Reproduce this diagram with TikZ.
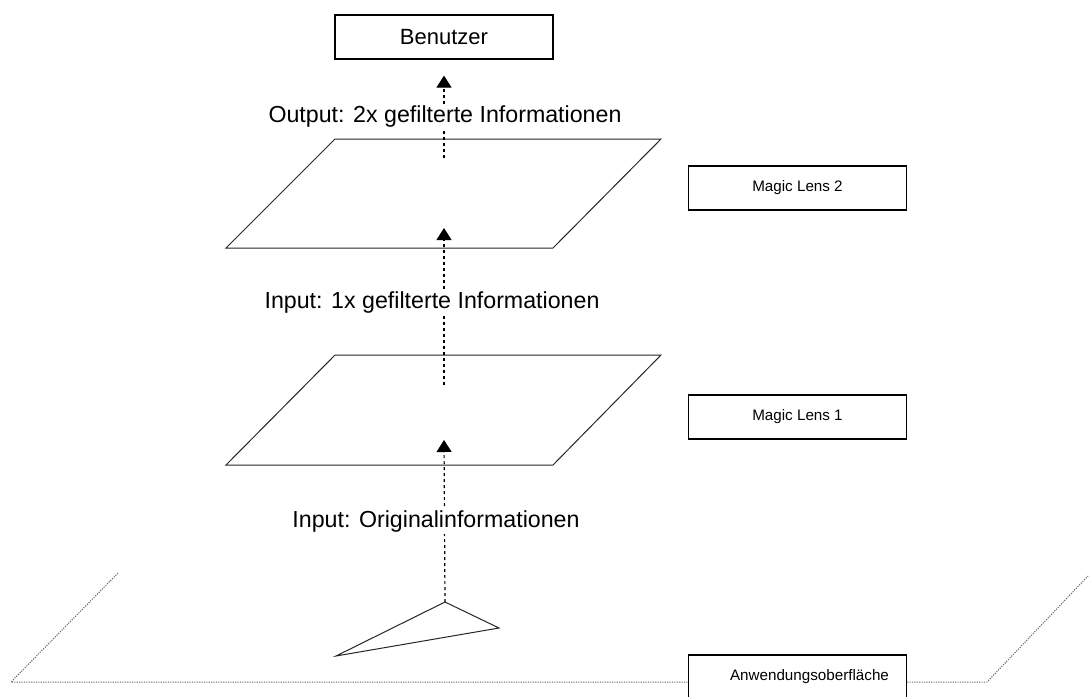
\documentclass[tikz,border=0pt]{standalone}
\usepackage{fontspec}
\setmainfont{Liberation Sans}
\usetikzlibrary{arrows.meta, positioning, calc}

\begin{document}
\begin{tikzpicture}[
  x=0.5pt, y=-0.5pt,
  box/.style={
    rectangle, draw=black, line width=0.6pt,
    minimum width=109pt, minimum height=22pt,
    inner sep=0pt, font=\fontsize{11}{13}\selectfont
  },
  smallbox/.style={box, font=\fontsize{7.6}{9}\selectfont},
  lens/.style={draw=black!85, line width=0.5pt},
  flow/.style={
    draw=black, line width=0.6pt, dash pattern=on 1.5pt off 1.5pt,
    -{Triangle[length=6pt, width=7.5pt]}
  },
  flowlabel/.style={fill=white, inner sep=1pt, font=\fontsize{11.6}{14}\selectfont},
  surface/.style={draw=black!60, line width=0.5pt, dash pattern=on 0.6pt off 0.6pt}
]
  \path[use as bounding box, clip] (0,0) rectangle (1091,696);

  % boxes
  \node[box] (user) at (444,37) {Benutzer};
  \node[smallbox] (ml2) at (797.5,188) {Magic Lens 2};
  \node[smallbox] (ml1) at (797.5,417) {Magic Lens 1};
  \node[smallbox, minimum height=22pt] (app) at (797.5,677) {\hspace{12pt}Anwendungsoberfläche};

  % lenses
  \draw[lens] (335,139) -- (661,139) -- (553,248) -- (226,248) -- cycle;
  \draw[lens] (335,355) -- (661,355) -- (553,465) -- (226,465) -- cycle;

  % object on the surface
  \coordinate (obj) at (445,602);
  \draw[lens] (obj) -- (499,628) -- (336,656) -- cycle;

  % application surface
  \coordinate (sfl) at (118,573);
  \coordinate (sfbl) at (11,682);
  \coordinate (sfbr) at (987,682);
  \coordinate (sfr) at (1088,576);
  \draw[surface] (sfl) -- (sfbl) -- (sfbl -| app.west);
  \draw[surface] (sfbr -| app.east) -- (sfbr) -- (sfr);

  % information flow
  \coordinate (in2) at (444,158);
  \coordinate (in1) at (444,385);
  \coordinate (tip2) at (444,228);
  \coordinate (tip1) at (444,440);
  \draw[flow] (in2) -- ([yshift=-8pt]user.south);
  \draw[flow] (in1) -- (tip2);
  \draw[flow] (obj) -- (tip1);

  \node[flowlabel] (out2) at (445,117) {Output: 2x gefilterte Informationen};
  \node[flowlabel] (out1) at (432,302) {Input: 1x gefilterte Informationen};
  \node[flowlabel] (orig) at (436,521) {Input: Originalinformationen};
\end{tikzpicture}
\end{document}
